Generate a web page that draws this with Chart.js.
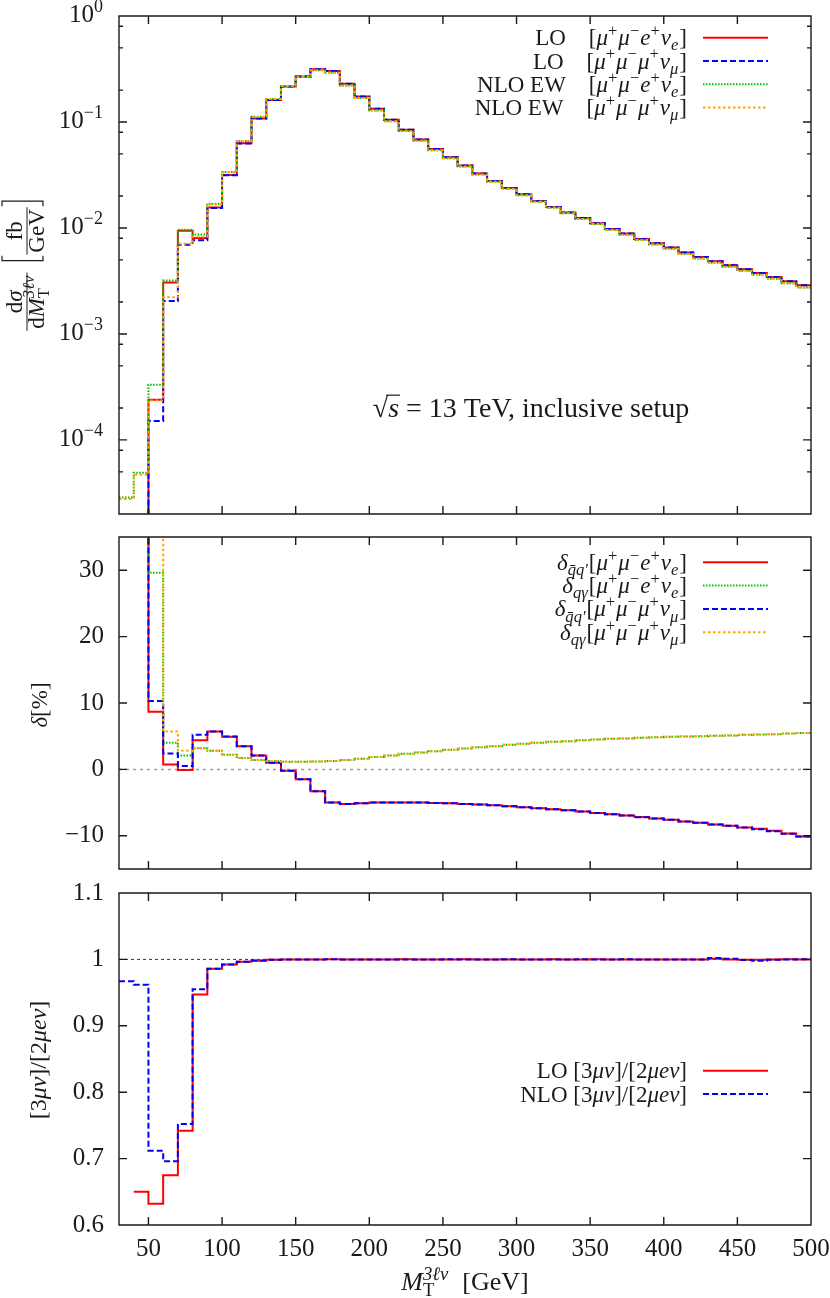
<!DOCTYPE html>
<html lang="en">
<head>
<meta charset="utf-8">
<title>M_T 3lnu distribution</title>
<script src="https://cdn.jsdelivr.net/npm/chart.js@4.4.1/dist/chart.umd.min.js"></script>
<style>
  body { margin: 0; background: #fff; }
  #page { position: relative; width: 830px; height: 1298px; }
  #page canvas { position: absolute; left: 0; }
</style>
</head>
<body>
<div id="page">
  <canvas id="topChart" width="830" height="525" style="top:0px"></canvas>
  <canvas id="midChart" width="830" height="352" style="top:525px"></canvas>
  <canvas id="botChart" width="830" height="421" style="top:877px"></canvas>
</div>
<script>
// bin edges (GeV), 10 GeV bins from 30 to 500
const edges = [30, 40, 50, 60, 70, 80, 90, 100, 110, 120, 130, 140, 150, 160, 170, 180,
  190, 200, 210, 220, 230, 240, 250, 260, 270, 280, 290, 300, 310, 320, 330, 340, 350,
  360, 370, 380, 390, 400, 410, 420, 430, 440, 450, 460, 470, 480, 490, 500];

// top panel: dsigma/dM_T [fb/GeV], one value per bin
const loE = [null, 4e-6, 2.40e-4, 3.05e-3, 9.4e-3, 8.05e-3, 1.56e-2, 3.16e-2, 6.30e-2, 0.108,
  0.161, 0.216, 0.268, 0.314, 0.303, 0.230, 0.174, 0.133, 0.105, 0.0845,
  0.0682, 0.0556, 0.0465, 0.0388, 0.0326, 0.0278, 0.0238, 0.0208, 0.0180, 0.0158,
  0.0140, 0.0124, 0.0111, 0.0098, 0.00886, 0.00787, 0.00717, 0.00653, 0.00586, 0.00532,
  0.00485, 0.00445, 0.00408, 0.00376, 0.00345, 0.00314, 0.00288];
const loMu = [null, 2.6e-6, 1.51e-4, 2.05e-3, 6.95e-3, 7.65e-3, 1.54e-2, 3.14e-2, 6.28e-2, 0.108,
  0.161, 0.216, 0.268, 0.314, 0.303, 0.230, 0.174, 0.133, 0.105, 0.0845,
  0.0682, 0.0556, 0.0465, 0.0388, 0.0326, 0.0278, 0.0238, 0.0208, 0.0180, 0.0158,
  0.0140, 0.0124, 0.0111, 0.0098, 0.00886, 0.00787, 0.00717, 0.00653, 0.00586, 0.00532,
  0.00486, 0.00444, 0.00407, 0.00376, 0.00345, 0.00314, 0.00288];
const nloE = [2.86e-5, 4.89e-5, 3.32e-4, 3.19e-3, 9.6e-3, 8.66e-3, 1.69e-2, 3.38e-2, 6.63e-2, 0.1118,
  0.1646, 0.218, 0.267, 0.307, 0.292, 0.221, 0.168, 0.1286, 0.1017, 0.0821,
  0.0664, 0.0542, 0.0455, 0.0380, 0.0319, 0.0273, 0.0234, 0.0204, 0.01767, 0.01551,
  0.01373, 0.01216, 0.01087, 0.00958, 0.00865, 0.00768, 0.00699, 0.00635, 0.00569, 0.00516,
  0.00470, 0.00430, 0.00394, 0.00362, 0.00332, 0.00301, 0.00275];
const nloMu = [2.77e-5, 4.70e-5, 2.36e-4, 2.22e-3, 7.1e-3, 8.27e-3, 1.666e-2, 3.355e-2, 6.61e-2, 0.1116,
  0.1645, 0.218, 0.267, 0.307, 0.292, 0.221, 0.168, 0.1286, 0.1017, 0.0821,
  0.0664, 0.0542, 0.0455, 0.0380, 0.0319, 0.0273, 0.0234, 0.0204, 0.01767, 0.01551,
  0.01373, 0.01216, 0.01087, 0.00958, 0.00865, 0.00768, 0.00699, 0.00635, 0.00569, 0.00516,
  0.00471, 0.00430, 0.00393, 0.00361, 0.00332, 0.00301, 0.00275];

// middle panel: relative corrections delta [%]
const dQQe = [null, 80, 8.7, 0.75, -0.1, 4.4, 5.7, 4.9, 3.5, 2.1,
  1.0, -0.2, -1.5, -3.3, -5.0, -5.2, -5.1, -5.0, -5.0, -5.0,
  -5.0, -5.05, -5.1, -5.2, -5.3, -5.4, -5.55, -5.7, -5.85, -6.0,
  -6.15, -6.35, -6.55, -6.75, -6.95, -7.15, -7.4, -7.6, -7.85, -8.05,
  -8.3, -8.5, -8.75, -8.95, -9.25, -9.65, -10.1];
const dQGe = [null, 80, 29.6, 4.0, 2.1, 3.2, 2.8, 2.2, 1.7, 1.4,
  1.25, 1.15, 1.15, 1.2, 1.25, 1.4, 1.6, 1.85, 2.1, 2.35,
  2.55, 2.75, 2.95, 3.15, 3.35, 3.5, 3.7, 3.85, 4.0, 4.15,
  4.25, 4.4, 4.5, 4.6, 4.65, 4.75, 4.85, 4.9, 4.95, 5.0,
  5.05, 5.1, 5.2, 5.25, 5.3, 5.4, 5.5];
const dQQmu = [null, 80, 10.3, 2.4, 0.5, 5.2, 5.7, 4.95, 3.5, 2.1,
  1.0, -0.2, -1.5, -3.3, -5.0, -5.2, -5.1, -5.0, -5.0, -5.0,
  -5.0, -5.05, -5.1, -5.2, -5.3, -5.4, -5.55, -5.7, -5.85, -6.0,
  -6.15, -6.35, -6.55, -6.75, -6.95, -7.2, -7.4, -7.6, -7.85, -8.05,
  -8.3, -8.5, -8.75, -9.0, -9.3, -9.7, -10.1];
const dQGmu = [null, 80, 60, 5.7, 2.8, 3.2, 2.8, 2.2, 1.7, 1.4,
  1.25, 1.15, 1.15, 1.2, 1.25, 1.4, 1.6, 1.85, 2.1, 2.35,
  2.55, 2.75, 2.95, 3.15, 3.35, 3.5, 3.7, 3.85, 4.0, 4.15,
  4.25, 4.4, 4.5, 4.6, 4.65, 4.75, 4.85, 4.9, 4.95, 5.0,
  5.05, 5.1, 5.2, 5.25, 5.3, 5.4, 5.5];

// bottom panel: ratio [3 mu nu] / [2 mu e nu]
const ratioLO = [null, 0.650, 0.632, 0.675, 0.742, 0.947, 0.986, 0.9925, 0.9965, 0.998,
  0.9995, 1.0, 0.9998, 1.0, 1.0002, 1.0, 0.9999, 1.0, 1.0, 1.0001,
  1.0, 0.9999, 1.0, 1.0001, 1.0, 1.0, 0.9999, 1.0, 1.0, 1.0001,
  1.0, 1.0, 1.0001, 1.0, 1.0, 1.0, 0.9999, 1.0, 1.0, 1.0,
  1.001, 1.0, 0.9995, 0.9993, 0.9998, 1.0002, 1.0];
const ratioNLO = [0.967, 0.962, 0.712, 0.696, 0.752, 0.955, 0.986, 0.9925, 0.9965, 0.9985,
  0.9995, 1.0, 1.0, 1.0, 1.0002, 1.0, 0.9998, 1.0, 0.9999, 1.0,
  1.0, 1.0, 1.0001, 1.0, 1.0, 1.0, 1.0001, 1.0, 1.0, 1.0,
  1.0, 1.0001, 1.0, 1.0, 1.0002, 1.0, 1.0, 1.0, 1.0, 0.9998,
  1.002, 1.001, 0.999, 0.998, 0.9995, 1.0, 1.0003];

// axis ticks
const xTicks = [50, 100, 150, 200, 250, 300, 350, 400, 450, 500];
const logTicks = [1e-4, 1e-3, 1e-2, 1e-1, 1];
const logMinorMult = [2, 5, 8];
const deltaTicks = [-10, 0, 10, 20, 30];
const ratioTicks = [0.6, 0.7, 0.8, 0.9, 1, 1.1];
const refX = [30, 500];

const FONT = "'Liberation Serif', 'DejaVu Serif', serif";
const INK = '#1a1a1a';
const RED = '#ff0000', BLUE = '#0000ff', GREEN = '#00c000', ORANGE = '#ffa500';

// --- little rich text helper (sub/superscripts, italics) ---
function layoutRich(ctx, segs, size) {
  const items = [];
  let x = 0, keep = null;
  for (const [t, st = ''] of segs) {
    const small = st.includes('^') || st.includes('_');
    const fs = small ? size * 0.72 : size;
    const font = (st.includes('i') ? 'italic ' : '') + fs + 'px ' + FONT;
    ctx.font = font;
    const w = ctx.measureText(t).width + (small ? 1 : 0);
    const dy = st.includes('^') ? -size * 0.4 : st.includes('_') ? size * 0.22 : 0;
    if (keep) {
      items.push({ t, font, x: keep.x, dy, st, w });
      x = keep.x + Math.max(keep.w, w);
      keep = null;
    } else {
      items.push({ t, font, x, dy, st, w });
      if (st.includes('k')) keep = { x, w };
      x += w;
    }
  }
  return { items, width: x };
}

function drawRich(ctx, segs, x, y, size, align) {
  const L = layoutRich(ctx, segs, size);
  const x0 = align === 'right' ? x - L.width : align === 'center' ? x - L.width / 2 : x;
  ctx.textAlign = 'left';
  ctx.textBaseline = 'alphabetic';
  ctx.fillStyle = INK;
  for (const it of L.items) {
    ctx.font = it.font;
    ctx.fillText(it.t, x0 + it.x, y + it.dy);
    if (it.st.includes('o')) {
      ctx.strokeStyle = INK; ctx.lineWidth = 1.2; ctx.setLineDash([]);
      ctx.beginPath();
      ctx.moveTo(x0 + it.x - 2, y - size * 0.78);
      ctx.lineTo(x0 + it.x + it.w + 1, y - size * 0.78);
      ctx.stroke();
    }
  }
  return L.width;
}

function drawFrac(ctx, num, den, cx, w, size) {
  drawRich(ctx, num, cx, -5, size, 'center');
  drawRich(ctx, den, cx, size * 0.72, size, 'center');
  ctx.strokeStyle = INK; ctx.lineWidth = 1; ctx.setLineDash([]);
  ctx.beginPath(); ctx.moveTo(cx - w / 2, 0); ctx.lineTo(cx + w / 2, 0); ctx.stroke();
}

function drawBracket(ctx, x, top, bottom, dir) {
  ctx.strokeStyle = INK; ctx.lineWidth = 1.2; ctx.setLineDash([]);
  ctx.beginPath();
  ctx.moveTo(x + dir * 5, top); ctx.lineTo(x, top); ctx.lineTo(x, bottom); ctx.lineTo(x + dir * 5, bottom);
  ctx.stroke();
}

// frame, inward ticks, legend and extra labels
const framePlugin = {
  id: 'frame',
  afterDraw(chart, args, o) {
    const { ctx, chartArea: a } = chart;
    const xs = chart.scales.x, ys = chart.scales.y;
    ctx.save();
    ctx.strokeStyle = INK; ctx.lineWidth = 1.4; ctx.setLineDash([]);
    ctx.beginPath();
    ctx.rect(a.left, a.top, a.right - a.left, a.bottom - a.top);
    xTicks.forEach(v => {
      const p = xs.getPixelForValue(v);
      ctx.moveTo(p, a.bottom); ctx.lineTo(p, a.bottom - 8);
      ctx.moveTo(p, a.top); ctx.lineTo(p, a.top + 8);
    });
    o.yMajor.forEach(v => {
      const p = ys.getPixelForValue(v);
      ctx.moveTo(a.left, p); ctx.lineTo(a.left + 8, p);
      ctx.moveTo(a.right, p); ctx.lineTo(a.right - 8, p);
    });
    if (o.logMinor) {
      logTicks.concat([1e-5]).forEach(d => logMinorMult.forEach(m => {
        const v = d * m;
        if (v <= ys.min || v >= ys.max) return;
        const p = ys.getPixelForValue(v);
        ctx.moveTo(a.left, p); ctx.lineTo(a.left + 4, p);
        ctx.moveTo(a.right, p); ctx.lineTo(a.right - 4, p);
      }));
    }
    ctx.stroke();

    if (o.legend) {
      const L = o.legend;
      chart.data.datasets.filter(d => d.rich).forEach((d, i) => {
        const yy = L.y + i * L.dy;
        drawRich(ctx, d.rich, L.x, yy + L.size * 0.33, L.size, 'right');
        ctx.strokeStyle = d.borderColor; ctx.lineWidth = d.borderWidth;
        ctx.setLineDash(d.borderDash || []);
        ctx.beginPath(); ctx.moveTo(L.x + 16, yy); ctx.lineTo(L.x + 81, yy); ctx.stroke();
      });
      ctx.setLineDash([]);
    }
    if (o.extra) o.extra(ctx, chart);
    ctx.restore();
  }
};

function stepPts(vals) {
  return edges.map((x, i) => ({ x, y: vals[Math.min(i, vals.length - 1)] }));
}

function hist(rich, vals, color, dash, order) {
  return {
    rich, data: stepPts(vals), borderColor: color, borderDash: dash, borderWidth: 2,
    stepped: 'before', pointRadius: 0, fill: false, order, clip: 0, spanGaps: false
  };
}

function refLine(y, color, dash, width) {
  return {
    data: refX.map(x => ({ x, y })), borderColor: color, borderDash: dash,
    borderWidth: width, pointRadius: 0, fill: false, order: 10, clip: 0
  };
}

function xAxis(show) {
  return {
    type: 'linear', min: 30, max: 500, display: show,
    afterBuildTicks: s => { s.ticks = xTicks.map(v => ({ value: v })); },
    afterFit: s => { s.height = show ? 73 : 0; s.paddingLeft = 0; s.paddingRight = 0; },
    grid: { display: false, drawTicks: false }, border: { display: false },
    ticks: { font: { family: FONT, size: 25 }, color: INK, padding: 9, maxRotation: 0, autoSkip: false }
  };
}

function yAxis(extra) {
  return Object.assign({
    afterFit: s => { s.width = 119; s.paddingTop = 0; s.paddingBottom = 0; },
    grid: { display: false, drawTicks: false }, border: { display: false },
  }, extra);
}

const common = {
  responsive: false, animation: false, events: [],
  elements: { line: { tension: 0 } },
};

// lepton labels
const eNu = [['\u03BC', 'i'], ['+', '^'], ['\u03BC', 'i'], ['\u2212', '^'], ['e', 'i'], ['+', '^'], ['\u03BD', 'i'], ['e', '_i'], [']', '']];
const muNu = [['\u03BC', 'i'], ['+', '^'], ['\u03BC', 'i'], ['\u2212', '^'], ['\u03BC', 'i'], ['+', '^'], ['\u03BD', 'i'], ['\u03BC', '_i'], [']', '']];
const ratioTxt = [['[3', ''], ['\u03BC\u03BD', 'i'], [']/[2', ''], ['\u03BCe\u03BD', 'i'], [']', '']];

// ---------- top panel ----------
new Chart(document.getElementById('topChart'), {
  type: 'line',
  data: {
    datasets: [
      hist([['LO\u2003[', '']].concat(eNu), loE, RED, [], 4),
      hist([['LO\u2003[', '']].concat(muNu), loMu, BLUE, [6, 3], 3),
      hist([['NLO EW\u2003[', '']].concat(eNu), nloE, GREEN, [1.5, 1.5], 2),
      hist([['NLO EW\u2003[', '']].concat(muNu), nloMu, ORANGE, [2.5, 2.5], 1)
    ]
  },
  options: Object.assign({}, common, {
    layout: { padding: { top: 16, right: 19, bottom: 11, left: 0 } },
    scales: {
      x: xAxis(false),
      y: yAxis({ type: 'logarithmic', min: 2e-5, max: 1, ticks: { display: false } })
    },
    plugins: {
      legend: { display: false }, tooltip: { enabled: false },
      frame: {
        yMajor: logTicks, logMinor: true,
        legend: { x: 687, y: 37.7, dy: 23.3, size: 23 },
        extra(ctx, chart) {
          const ys = chart.scales.y;
          logTicks.forEach(v => {
            const e = Math.round(Math.log10(v));
            drawRich(ctx, [['10', ''], [e < 0 ? '\u2212' + (-e) : String(e), '^']], 104, ys.getPixelForValue(v) + 6, 25, 'right');
          });
          drawRich(ctx, [['\u221A', ''], ['s', 'io'], [' = 13 TeV, inclusive setup', '']], 531, 417, 28, 'center');
          // y title
          const S = 23;
          const num = [['d', ''], ['\u03C3', 'i']];
          const den = [['d', ''], ['M', 'i'], ['T', '_k'], ['3\u2113\u03BD', '^i']];
          const fb = [['fb', '']], gev = [['GeV', '']];
          const w1 = Math.max(layoutRich(ctx, num, S).width, layoutRich(ctx, den, S).width) + 4;
          const w2 = Math.max(layoutRich(ctx, fb, S).width, layoutRich(ctx, gev, S).width) + 4;
          const W = w1 + 10 + 8 + w2 + 8;
          ctx.save();
          ctx.translate(27, 265);
          ctx.rotate(-Math.PI / 2);
          let x0 = -W / 2;
          drawFrac(ctx, num, den, x0 + w1 / 2, w1, S);
          x0 += w1 + 10;
          drawBracket(ctx, x0 + 2, -25, 16, 1);
          drawFrac(ctx, fb, gev, x0 + 8 + w2 / 2, w2, S);
          drawBracket(ctx, x0 + 8 + w2 + 6, -25, 16, -1);
          ctx.restore();
        }
      }
    }
  }),
  plugins: [framePlugin]
});

// ---------- middle panel ----------
const dq = [['\u03B4', 'i'], ['q\u0304q\u2032', '_i'], ['[', '']];
const dg = [['\u03B4', 'i'], ['q\u03B3', '_i'], ['[', '']];
new Chart(document.getElementById('midChart'), {
  type: 'line',
  data: {
    datasets: [
      hist(dq.concat(eNu), dQQe, RED, [], 4),
      hist(dg.concat(eNu), dQGe, GREEN, [1.5, 1.5], 3),
      hist(dq.concat(muNu), dQQmu, BLUE, [6, 3], 2),
      hist(dg.concat(muNu), dQGmu, ORANGE, [2.5, 2.5], 1),
      refLine(0, '#a0a0a0', [3, 4], 1.5)
    ]
  },
  options: Object.assign({}, common, {
    layout: { padding: { top: 12, right: 19, bottom: 8, left: 0 } },
    scales: {
      x: xAxis(false),
      y: yAxis({
        type: 'linear', min: -15, max: 35,
        afterBuildTicks: s => { s.ticks = deltaTicks.map(v => ({ value: v })); },
        ticks: { font: { family: FONT, size: 25 }, color: INK, padding: 15,
          callback: v => v < 0 ? '\u2212' + (-v) : String(v) }
      })
    },
    plugins: {
      legend: { display: false }, tooltip: { enabled: false },
      frame: {
        yMajor: deltaTicks,
        legend: { x: 687, y: 37.3, dy: 23.3, size: 23 },
        extra(ctx) {
          ctx.save();
          ctx.translate(39, 180);
          ctx.rotate(-Math.PI / 2);
          drawRich(ctx, [['\u03B4', 'i'], ['[%]', '']], 0, 8, 23, 'center');
          ctx.restore();
        }
      }
    }
  }),
  plugins: [framePlugin]
});

// ---------- bottom panel ----------
new Chart(document.getElementById('botChart'), {
  type: 'line',
  data: {
    datasets: [
      hist([['LO ', '']].concat(ratioTxt), ratioLO, RED, [], 2),
      hist([['NLO ', '']].concat(ratioTxt), ratioNLO, BLUE, [6, 3], 1),
      refLine(1, '#333333', [3, 3], 1)
    ]
  },
  options: Object.assign({}, common, {
    layout: { padding: { top: 16, right: 19, bottom: 0, left: 0 } },
    scales: {
      x: xAxis(true),
      y: yAxis({
        type: 'linear', min: 0.6, max: 1.1,
        afterBuildTicks: s => { s.ticks = ratioTicks.map(v => ({ value: v })); },
        ticks: { font: { family: FONT, size: 25 }, color: INK, padding: 15,
          callback: v => v === 1 ? '1' : v.toFixed(1) }
      })
    },
    plugins: {
      legend: { display: false }, tooltip: { enabled: false },
      frame: {
        yMajor: ratioTicks,
        legend: { x: 687, y: 193.7, dy: 23.3, size: 23 },
        extra(ctx) {
          drawRich(ctx, [['M', 'i'], ['T', '_k'], ['3\u2113\u03BD', '^i'], ['\u2002[GeV]', '']], 465, 413, 26, 'center');
          ctx.save();
          ctx.translate(38, 183);
          ctx.rotate(-Math.PI / 2);
          drawRich(ctx, ratioTxt, 0, 8, 24, 'center');
          ctx.restore();
        }
      }
    }
  }),
  plugins: [framePlugin]
});
</script>
</body>
</html>
